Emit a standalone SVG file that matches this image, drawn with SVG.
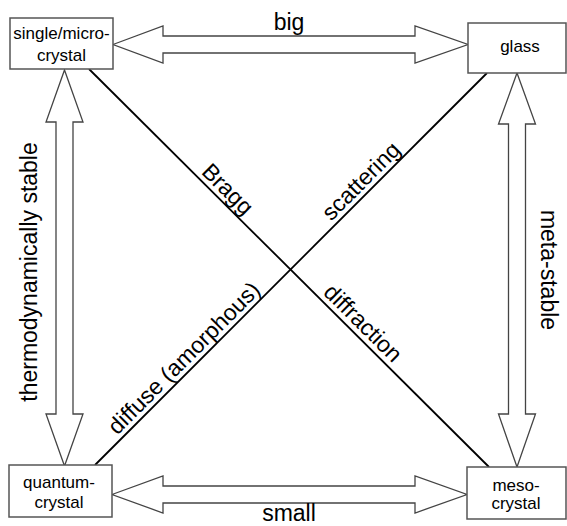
<svg xmlns="http://www.w3.org/2000/svg" width="567" height="526" viewBox="0 0 567 526">
<style>
.box{fill:#fff;stroke:#555;stroke-width:1.5}
.arr{fill:#fff;stroke:#444;stroke-width:1.3;stroke-linejoin:miter}
.diag{stroke:#000;stroke-width:1.8;fill:none}
.nt{font-family:"Liberation Sans",Arial,sans-serif;font-size:17px;fill:#000;text-anchor:middle}
.lb{font-family:"Liberation Sans",Arial,sans-serif;font-size:23px;fill:#000;text-anchor:middle}
</style>
<rect width="567" height="526" fill="#fff"/>
<g id="connectors">
<line class="diag" x1="89" y1="69" x2="489" y2="467"/>
<line class="diag" x1="487" y1="73" x2="95" y2="465"/>
<polygon class="arr" points="113,44.5 163,26 163,36 415,36 415,26 468,44.5 415,63 415,53 163,53 163,63"/>
<polygon class="arr" points="112,494.5 163,476 163,486 415,486 415,476 467,494.5 415,513 415,503 163,503 163,513"/>
<polygon class="arr" points="64.5,70 83,122 73,122 73,414 83,414 64.5,466 46,414 56,414 56,122 46,122"/>
<polygon class="arr" points="517,73 535.5,124 525.5,124 525.5,414 535.5,414 517,467 498.5,414 508.5,414 508.5,124 498.5,124"/>
<text class="lb" x="289" y="521">small</text>
<text class="lb" x="289" y="30">big</text>
<text class="lb" transform="translate(37,272) rotate(-90)">thermodynamically stable</text>
<text class="lb" transform="translate(541,270) rotate(90)">meta-stable</text>
<text class="lb" transform="translate(218.7,198.3) rotate(44.86)" y="-5">Bragg</text>
<text class="lb" transform="translate(354,332) rotate(44.86)" y="-5">diffraction</text>
<text class="lb" transform="translate(370,190) rotate(-45)" y="-5">scattering</text>
<text class="lb" transform="translate(193,367) rotate(-45)" y="-5">diffuse (amorphous)</text>
</g>
<g id="node-single">
<rect class="box" x="10" y="18" width="103" height="51"/>
<text class="nt" x="61.5" y="39">single/micro-</text>
<text class="nt" x="61.5" y="61">crystal</text>
</g>
<g id="node-glass">
<rect class="box" x="468" y="23" width="98" height="50"/>
<text class="nt" x="520" y="52">glass</text>
</g>
<g id="node-quantum">
<rect class="box" x="9" y="465" width="103" height="52"/>
<text class="nt" x="59" y="488">quantum-</text>
<text class="nt" x="59" y="508">crystal</text>
</g>
<g id="node-meso">
<rect class="box" x="467" y="467" width="99" height="52"/>
<text class="nt" x="516" y="491">meso-</text>
<text class="nt" x="516" y="509">crystal</text>
</g>
</svg>
